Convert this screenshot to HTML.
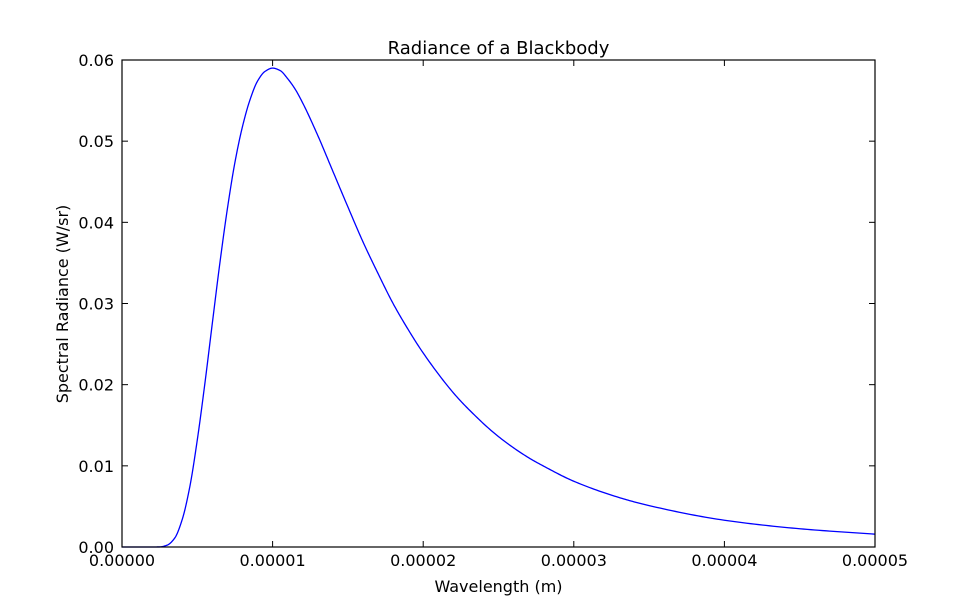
<!DOCTYPE html>
<html><head><meta charset="utf-8"><style>
html,body{margin:0;padding:0;background:#fff;}
svg text{font-family:"DejaVu Sans","Liberation Sans",sans-serif;fill:#000;}
</style></head><body>
<svg id="chart" width="972" height="608" xmlns="http://www.w3.org/2000/svg">
<rect width="972" height="608" fill="#fff"/>
<text x="498.5" y="54" font-size="18" text-anchor="middle">Radiance of a Blackbody</text>
<text x="498.5" y="592" font-size="16" text-anchor="middle">Wavelength (m)</text>
<text transform="translate(68,304) rotate(-90)" font-size="16" text-anchor="middle">Spectral Radiance (W/sr)</text>
<g id="ticks"></g>
<path id="curve" fill="none" stroke="#0000ff" stroke-width="1.3"/>
<rect x="122" y="60" width="753" height="487" fill="none" stroke="#000" stroke-width="1.2"/>
</svg>
<script>
const wavelengthsUm = [0,2,2.5,3,3.5,4,4.5,5,5.5,6,6.5,7,7.5,8,8.5,9,9.5,10,10.5,11,11.5,12,13,14,15,16,17,18,19,20,22,23,25,27,28,30,33,35,40,45,50];
const radiance = [0,0,0.00001,0.00023,0.0011,0.0034,0.0074,0.0132,0.0201,0.0276,0.035,0.0417,0.0474,0.0518,0.0551,0.0574,0.0586,0.059,0.0587,0.0577,0.0564,0.0547,0.0507,0.0463,0.0419,0.0376,0.0337,0.030,0.0268,0.0239,0.019,0.0170,0.0136,0.0110,0.00996,0.0081,0.0061,0.0051,0.0033,0.00225,0.00158];
const xTickVals = [0,1e-5,2e-5,3e-5,4e-5,5e-5];
const xTickLabels = ["0.00000","0.00001","0.00002","0.00003","0.00004","0.00005"];
const yTickVals = [0,0.01,0.02,0.03,0.04,0.05,0.06];
const yTickLabels = ["0.00","0.01","0.02","0.03","0.04","0.05","0.06"];

const L=122,R=875,T=60,B=547,XMAX=5e-5,YMAX=0.06;
const sx=v=>L+v/XMAX*(R-L);
const sy=v=>B-v/YMAX*(B-T);
const NS="http://www.w3.org/2000/svg";
const g=document.getElementById('ticks');
function line(x1,y1,x2,y2){const l=document.createElementNS(NS,'line');l.setAttribute('x1',x1);l.setAttribute('y1',y1);l.setAttribute('x2',x2);l.setAttribute('y2',y2);l.setAttribute('stroke','#000');l.setAttribute('stroke-width','1');


g.appendChild(l);}
xTickVals.forEach((v,i)=>{const x=sx(v);line(x,B,x,B-6);line(x,T,x,T+6);
const t=document.createElementNS(NS,'text');t.setAttribute('x',x);t.setAttribute('y',B+19);t.setAttribute('font-size','16');t.setAttribute('text-anchor','middle');t.textContent=xTickLabels[i];


g.appendChild(t);});
yTickVals.forEach((v,i)=>{const y=sy(v);line(L,y,L+6,y);line(R,y,R-6,y);
const t=document.createElementNS(NS,'text');t.setAttribute('x',L-8);t.setAttribute('y',y+6);t.setAttribute('font-size','16');t.setAttribute('text-anchor','end');t.textContent=yTickLabels[i];


g.appendChild(t);});
const xs=wavelengthsUm, ys=radiance, n=xs.length;
const dl=[], m=new Array(n);
for(let i=0;i<n-1;i++) dl.push((ys[i+1]-ys[i])/(xs[i+1]-xs[i]));
m[0]=dl[0]; m[n-1]=dl[n-2];
for(let i=1;i<n-1;i++){
 if(dl[i-1]*dl[i]<=0) m[i]=0;
 else {const h0=xs[i]-xs[i-1],h1=xs[i+1]-xs[i];const w1=2*h1+h0,w2=h1+2*h0;m[i]=(w1+w2)/(w1/dl[i-1]+w2/dl[i]);}
}
let d='';
for(let i=0;i<n-1;i++){
 const h=xs[i+1]-xs[i];
 for(let k=0;k<=20;k++){
  if(i>0&&k===0) continue;
  const t=k/20,t2=t*t,t3=t2*t;
  const y=(2*t3-3*t2+1)*ys[i]+(t3-2*t2+t)*h*m[i]+(-2*t3+3*t2)*ys[i+1]+(t3-t2)*h*m[i+1];
  const X=sx((xs[i]+t*h)*1e-6),Y=Math.min(B,sy(y));
  d+=(d?' L':'M')+X.toFixed(2)+','+Y.toFixed(2);
 }
}
document.getElementById('curve').setAttribute('d',d);
</script>
</body></html>
